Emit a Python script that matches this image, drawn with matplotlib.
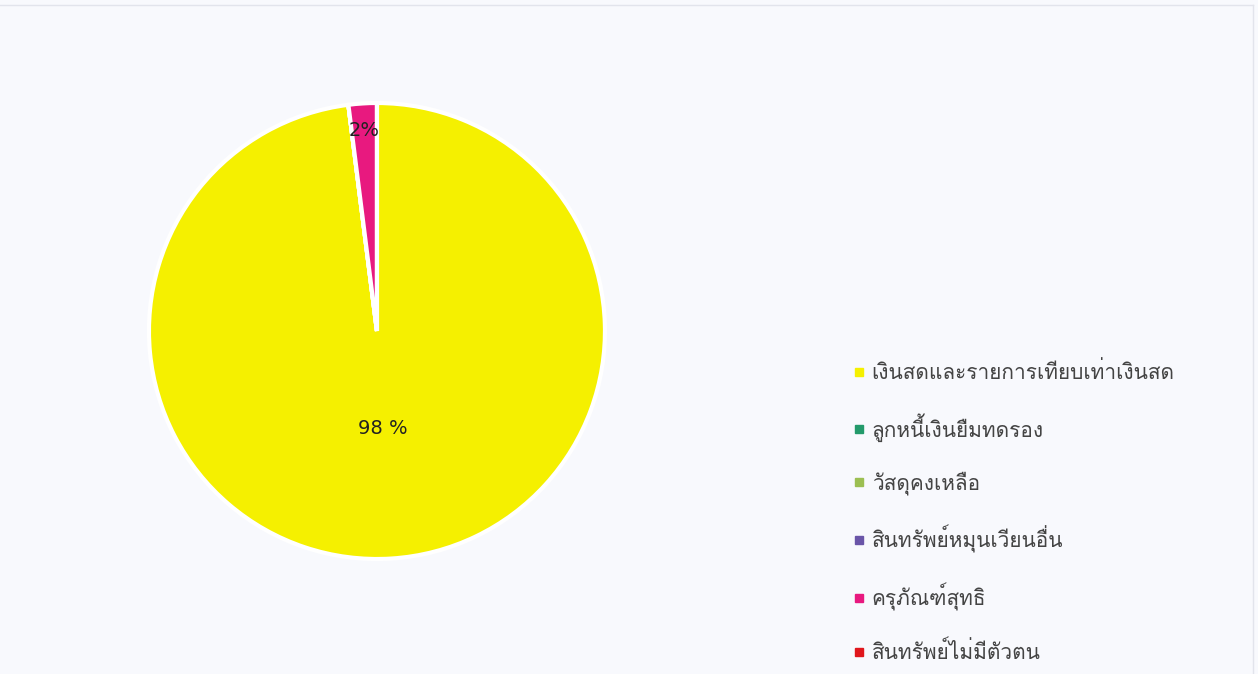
import matplotlib
matplotlib.use("Agg")
import matplotlib.pyplot as plt
from matplotlib import font_manager
from matplotlib.ft2font import FT2Font
from matplotlib.lines import Line2D
import numpy as np

# หา font ที่มีอักษรไทย (ใช้ Loma ถ้ามี)
thai_fonts = []
for f in font_manager.fontManager.ttflist:
    try:
        if 0x0E01 in FT2Font(f.fname).get_charmap():
            if f.name not in thai_fonts:
                thai_fonts.append(f.name)
    except Exception:
        pass
if 'Loma' in thai_fonts:
    thai_font = 'Loma'
else:
    thai_font = thai_fonts[0] if thai_fonts else 'DejaVu Sans'
plt.rcParams['font.family'] = [thai_font, 'DejaVu Sans']

# ข้อมูล
categories = ['เงินสดและรายการเทียบเท่าเงินสด', 'ลูกหนี้เงินยืมทดรอง', 'วัสดุคงเหลือ',
              'สินทรัพย์หมุนเวียนอื่น', 'ครุภัณฑ์สุทธิ', 'สินทรัพย์ไม่มีตัวตน']
values = [98, 0, 0, 0, 2, 0]
pct_labels = ['98 %', '', '', '', '2%', '']
colors = ['#f5f000', '#239a6b', '#9cbf52', '#6a55a8', '#e8197f', '#e0161c']
label_dist = [0.43, 0, 0, 0, 0.88, 0]

fig = plt.figure(figsize=(12.58, 6.74), dpi=100)
fig.patch.set_facecolor('#f8f9fd')

# เส้นขอบจาง ๆ ด้านบนและด้านขวา
fig.add_artist(Line2D([0, 0.996], [0.993, 0.993], color='#e2e4ec', lw=1))
fig.add_artist(Line2D([0.996, 0.996], [0, 0.993], color='#e2e4ec', lw=1))

ax = fig.add_axes([0.1184, 0.1706, 0.3625, 0.6766])
wedges, _ = ax.pie(values, colors=colors, startangle=90, counterclock=False,
                   wedgeprops=dict(edgecolor='white', linewidth=3))
ax.set_xlim(-1, 1)
ax.set_ylim(-1, 1)
ax.set_aspect('equal')

for w, txt, d in zip(wedges, pct_labels, label_dist):
    if not txt:
        continue
    ang = np.deg2rad((w.theta1 + w.theta2) / 2)
    ax.text(d * np.cos(ang), d * np.sin(ang), txt, ha='center', va='center',
            fontsize=14, color='#222222', family=['DejaVu Sans'])

handles = [Line2D([], [], marker='s', linestyle='none', markersize=6,
                  markerfacecolor=c, markeredgecolor=c) for c in colors]
fig.legend(handles, categories, loc='upper left', bbox_to_anchor=(0.663, 0.492),
           frameon=False, fontsize=15, labelspacing=1.43, handlelength=0.6,
           handletextpad=0.3, labelcolor='#444444')

fig.savefig('out.png', dpi=100, facecolor=fig.get_facecolor())
